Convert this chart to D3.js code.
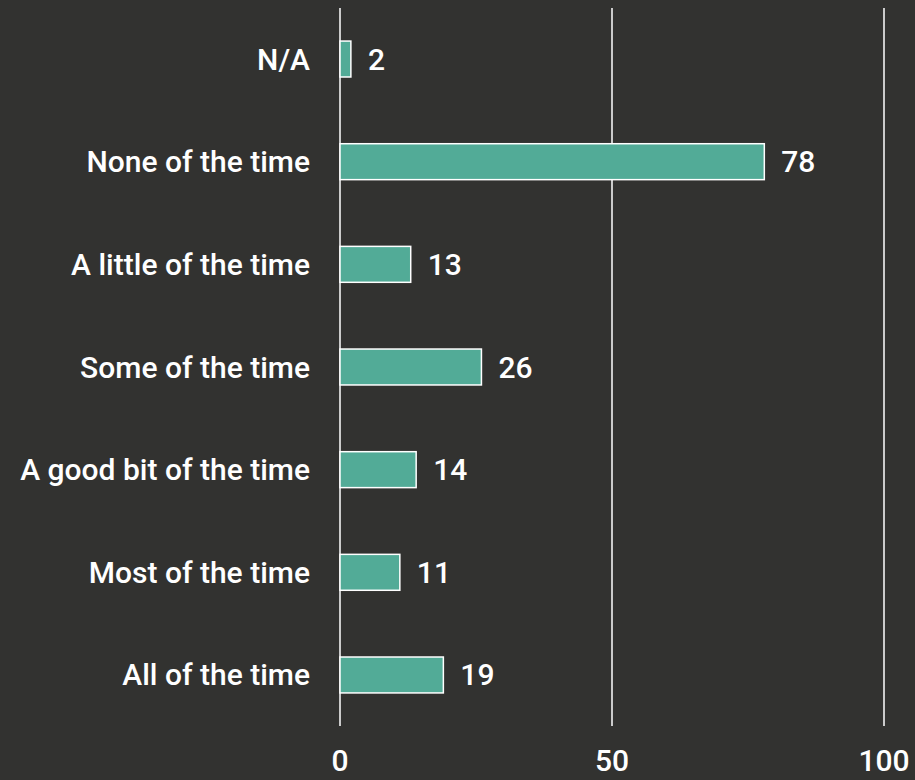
<!DOCTYPE html>
<html><head><meta charset="utf-8">
<script src="https://cdn.jsdelivr.net/npm/d3@7"></script>
<style>html,body{margin:0;padding:0;background:#323230;}svg{display:block;}</style>
</head><body>
<script>
const categories = ["N/A","None of the time","A little of the time","Some of the time","A good bit of the time","Most of the time","All of the time"];
const values = [2,78,13,26,14,11,19];
const ticks = [0,50,100];

const W=915,H=780;
const svg=d3.select("body").append("svg").attr("width",W).attr("height",H);
svg.append("rect").attr("width",W).attr("height",H).attr("fill","#323230");
const x=d3.scaleLinear().domain([0,100]).range([340,884]);
const y=d3.scaleBand().domain(categories).range([7.7,726.3]).paddingInner(0.65).paddingOuter(0.325);
const font="Roboto, 'Liberation Sans', Arial, sans-serif";
const fs=30, fw=500;

svg.append("g").selectAll("line").data(ticks).join("line")
 .attr("x1",d=>x(d)).attr("x2",d=>x(d)).attr("y1",8).attr("y2",726)
 .attr("stroke","#fff").attr("stroke-width",1.5);
svg.append("g").selectAll("text").data(ticks).join("text")
 .attr("x",d=>x(d)).attr("y",771).attr("text-anchor","middle")
 .attr("fill","#fff").attr("font-family",font).attr("font-size",fs).attr("font-weight",fw).text(d=>d);

const rows=categories.map((c,i)=>({c,v:values[i]}));
svg.append("g").selectAll("rect").data(rows).join("rect")
 .attr("x",x(0)).attr("y",d=>y(d.c)).attr("width",d=>x(d.v)-x(0)).attr("height",y.bandwidth())
 .attr("fill","#52ab97").attr("stroke","#fff").attr("stroke-width",1.5);
svg.append("g").selectAll("text").data(rows).join("text")
 .attr("x",310).attr("y",d=>y(d.c)+y.bandwidth()/2).attr("dy","0.35em").attr("text-anchor","end")
 .attr("fill","#fff").attr("font-family",font).attr("font-size",fs).attr("font-weight",fw).text(d=>d.c);
svg.append("g").selectAll("text").data(rows).join("text")
 .attr("x",d=>x(d.v)+17).attr("y",d=>y(d.c)+y.bandwidth()/2).attr("dy","0.35em")
 .attr("fill","#fff").attr("font-family",font).attr("font-size",fs).attr("font-weight",fw).text(d=>d.v);
</script>
</body></html>
